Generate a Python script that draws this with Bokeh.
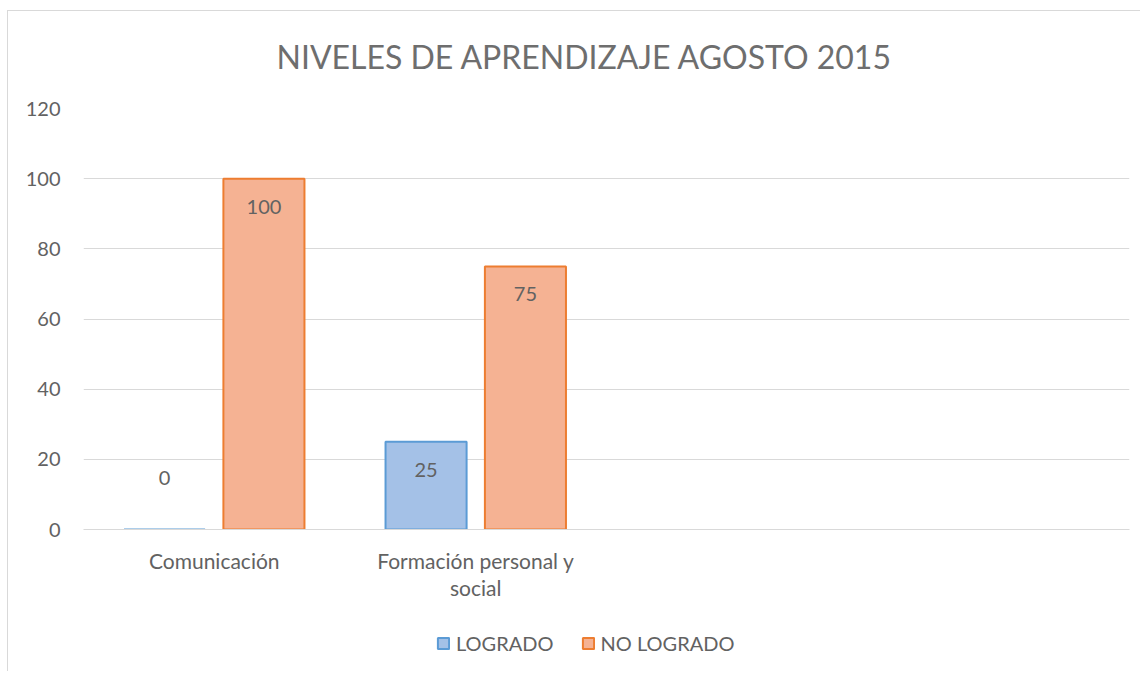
from bokeh.plotting import figure
from bokeh.layouts import column
from bokeh.models import ColumnDataSource, Range1d, FixedTicker, Legend, LegendItem
from bokeh.transform import dodge
from bokeh.core.properties import value
from bokeh.embed import file_html
from bokeh.resources import INLINE

# ---- data ----
categories = ["Comunicación", "Formación personal y\nsocial", "", ""]
logrado = [0, 25]
no_logrado = [100, 75]
series_names = ["LOGRADO", "NO LOGRADO"]
y_ticks = [0, 20, 40, 60, 80, 100, 120]
title_text = "NIVELES DE APRENDIZAJE AGOSTO 2015"

FONT = "Lato"
GRAY = "#626262"
TITLE_GRAY = "#6e6e6e"
GRID = "#D9D9D9"
BLUE_FILL, BLUE_LINE = "#A4C1E7", "#5B9BD5"
ORANGE_FILL, ORANGE_LINE = "#F5B293", "#ED7D31"
FILLS = [BLUE_FILL, ORANGE_FILL]
LINES = [BLUE_LINE, ORANGE_LINE]

n_cat = len(categories)
p = figure(width=1140, height=615, output_backend="svg", toolbar_location=None,
           x_range=Range1d(0, n_cat), y_range=Range1d(y_ticks[0], y_ticks[-1]),
           min_border_left=83, min_border_right=11, min_border_top=108,
           min_border_bottom=86)
p.outline_line_color = None
p.background_fill_color = None
p.border_fill_color = None

p.title.text = title_text
p.title.align = "left"
p.title.offset = 193
p.title.text_font = FONT
p.title.text_font_size = "32px"
p.title.text_font_style = "normal"
p.title.text_color = TITLE_GRAY
p.title.standoff = 66

centers = [i + 0.5 for i in range(len(logrado))]
src = ColumnDataSource(dict(
    x=centers,
    log=logrado,
    nolog=no_logrado,
    log_lbl=[str(v) for v in logrado],
    nolog_lbl=[str(v) for v in no_logrado],
    log_off=[28 if v > 0 else -52 for v in logrado],
    nolog_off=[28 if v > 0 else -52 for v in no_logrado],
))

OFF = 0.19
W = 0.31
p.vbar(x=dodge("x", -OFF, range=p.x_range), top="log", width=W, source=src,
       fill_color=FILLS[0], line_color=LINES[0], line_width=2)
p.vbar(x=dodge("x", OFF, range=p.x_range), top="nolog", width=W, source=src,
       fill_color=FILLS[1], line_color=LINES[1], line_width=2)

p.text(x=dodge("x", -OFF, range=p.x_range), y="log", text="log_lbl", y_offset="log_off",
       source=src, text_align="center", text_baseline="middle",
       text_font=value(FONT), text_font_size="20px", text_color=GRAY)
p.text(x=dodge("x", OFF, range=p.x_range), y="nolog", text="nolog_lbl", y_offset="nolog_off",
       source=src, text_align="center", text_baseline="middle",
       text_font=value(FONT), text_font_size="20px", text_color=GRAY)

# axes
xa = p.xaxis[0]
xa.ticker = FixedTicker(ticks=[i + 0.5 for i in range(n_cat)])
xa.major_label_overrides = {i + 0.5: c for i, c in enumerate(categories)}
xa.axis_line_color = GRID
xa.major_tick_line_color = None
xa.minor_tick_line_color = None
xa.major_label_text_font = FONT
xa.major_label_text_font_size = "21px"
xa.major_label_text_color = GRAY
xa.major_label_text_line_height = 1.1
xa.major_label_standoff = 12

ya = p.yaxis[0]
ya.ticker = FixedTicker(ticks=y_ticks)
ya.axis_line_color = None
ya.major_tick_line_color = None
ya.minor_tick_line_color = None
ya.major_label_text_font = FONT
ya.major_label_text_font_size = "20px"
ya.major_label_text_color = GRAY
ya.major_label_standoff = 17

p.xgrid.grid_line_color = None
p.ygrid.grid_line_color = GRID
p.ygrid.grid_line_width = 1

# legend strip below the chart (same bar styles; its bars are hidden)
pl = figure(width=1140, height=56, output_backend="svg", toolbar_location=None,
            x_axis_type=None, y_axis_type=None,
            x_range=Range1d(0, n_cat), y_range=Range1d(y_ticks[0], y_ticks[-1]),
            min_border_left=0, min_border_right=0, min_border_top=0, min_border_bottom=0)
pl.grid.grid_line_color = None
pl.outline_line_color = None
pl.background_fill_color = None
pl.border_fill_color = None
leg_r1 = pl.vbar(x="x", top="log", width=W, source=src, visible=False,
                 fill_color=FILLS[0], line_color=LINES[0], line_width=2)
leg_r2 = pl.vbar(x="x", top="nolog", width=W, source=src, visible=False,
                 fill_color=FILLS[1], line_color=LINES[1], line_width=2)
legend = Legend(items=[LegendItem(label=series_names[0], renderers=[leg_r1]),
                       LegendItem(label=series_names[1], renderers=[leg_r2])],
                orientation="horizontal", location="left")
legend.border_line_color = None
legend.background_fill_alpha = 0
legend.label_text_font = FONT
legend.label_text_font_size = "20px"
legend.label_text_color = GRAY
legend.glyph_width = 14
legend.glyph_height = 14
legend.label_standoff = 6
legend.spacing = 27
legend.padding = 10
legend.margin = 353
legend.click_policy = "none"
pl.add_layout(legend)

frame_css = ("linear-gradient(#D9D9D9,#D9D9D9) 7px 10px / 1px 100% no-repeat, "
             "linear-gradient(#D9D9D9,#D9D9D9) 7px 10px / 100% 1px no-repeat, white")
layout = column(p, pl, spacing=0, styles={"background": frame_css})
open("out.html", "w").write(file_html(layout, INLINE))
